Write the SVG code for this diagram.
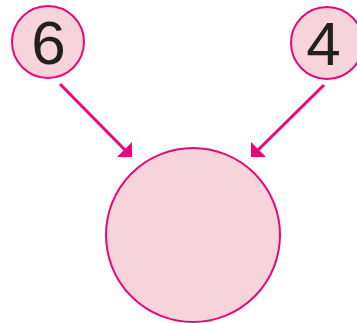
<svg xmlns="http://www.w3.org/2000/svg" width="357" height="323" viewBox="0 0 357 323">
<style>
.node{fill:#f7d3db;stroke:#e5087d;stroke-width:2}
.num{font-family:"Liberation Sans","Open Sans",sans-serif;font-size:62px;fill:#231f20;text-anchor:middle}
.edge{stroke:#e5087d;stroke-width:3;fill:none}
.head{fill:#e5087d}
</style>
<rect width="357" height="323" fill="#ffffff"/>
<g id="node-6">
<circle class="node" cx="48" cy="42" r="36"/>
<text class="num" x="48.5" y="64">6</text>
</g>
<g id="node-4">
<circle class="node" cx="327" cy="43" r="36"/>
<text class="num" x="323.5" y="65">4</text>
</g>
<g id="node-result">
<circle class="node" cx="193" cy="235" r="87"/>
</g>
<g id="connectors">
<line class="edge" x1="60" y1="84" x2="125" y2="150"/>
<polygon class="head" points="132,157 117,157 132,142"/>
<line class="edge" x1="324" y1="85" x2="258" y2="150"/>
<polygon class="head" points="251,157 266,157 251,142"/>
</g>
</svg>
